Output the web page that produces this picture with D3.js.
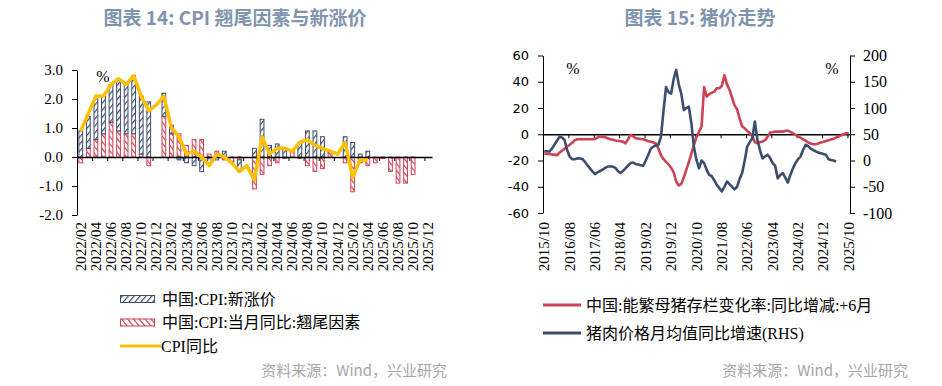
<!DOCTYPE html>
<html>
<head>
<meta charset="utf-8">
<script src="https://cdn.jsdelivr.net/npm/d3@7"></script>
<style>
body { margin: 0; background: #fff; }
svg text { font-family: "Liberation Serif", "Noto Sans CJK SC", serif; }
</style>
</head>
<body>
<svg id="chart" width="942" height="386"></svg>
<script>
"use strict";

// ---- chart 14 : CPI tail factor vs new price factor (2022/02 .. 2025/12)
const cpiMonths = d3.timeMonth.range(new Date(2022, 1, 1), new Date(2026, 0, 1)).map(d3.timeFormat("%Y/%m"));
const cpiYoY = [0.9, 1.5, 2.1, 2.1, 2.5, 2.7, 2.5, 2.8, 2.1, 1.6, 1.8,
    2.1, 1.0, 0.7, 0.1, 0.2, 0.0, -0.3, 0.1, 0.0, -0.2, -0.5, -0.3,
    -0.8, 0.7, 0.1, 0.3, 0.3, 0.2, 0.5, 0.6, 0.4, 0.3, 0.2, 0.1,
    0.5, -0.7, -0.1, -0.1];
const newPrice = [0.9, 1.1, 1.4, 1.3, 1.3, 1.8, 1.7, 2.0, 2.0, 1.9, null,
    0.8, 0.3, -0.1, -0.2, -0.3, -0.5, -0.2, -0.1, 0.2, -0.05, -0.4, null,
    0.3, 1.3, 0.4, 0.45, 0.3, 0.0, 0.5, 0.9, 0.9, 0.7, 0.05, null,
    0.7, 0.5, 0.1, 0.2, null, null, null, null, null, null, null, null];
const tailFactor = [-0.2, 0.3, 0.6, 0.8, 1.2, 0.9, 0.8, 0.8, 0.1, -0.3, null,
    1.4, 0.8, 0.8, 0.4, 0.6, 0.6, 0.1, 0.2, -0.1, -0.15, -0.1, null,
    -1.1, -0.6, -0.3, -0.2, -0.05, 0.2, -0.05, -0.3, -0.5, -0.4, 0.15, null,
    -0.2, -1.2, -0.2, -0.3, -0.2, -0.05, -0.5, -0.9, -0.9, -0.6, null, null];
const cpiTicks = [-2, -1, 0, 1, 2, 3];

// ---- chart 15 : hog prices (2015/10 .. 2025/10)
const pigMonths = d3.timeMonth.range(new Date(2015, 9, 1), new Date(2025, 10, 1)).map(d3.timeFormat("%Y/%m"));
// sow inventory yoy, shifted +6 months (left axis)
const sowChange = [-14.5, -15, -15, -15.5, -15.5, -16, -14, -12.5, -11, -9.5,
    -8, -6.5, -4.5, -3.8, -3.8, -3.8, -3.8, -3.8, -3.8, -3.8,
    -3.5, -2.5, -1.8, -2, -2.3, -3, -3.8, -4.2, -4.8, -5,
    -5.3, -5.6, -6.9, -4, -0.5, -1.5, -3, -3.2, -3.6, -3.8,
    -4.5, -5.3, -5.8, -6.3, -7, -11, -16, -19, -21, -23,
    -25.5, -29, -36, -39, -37.8, -33, -27, -21, -14.5, -8,
    -2, 2, 6, 36, 28.7, 30.5, 31.5, 32.5, 35, 35,
    37, 45, 38, 34, 28, 22, 19, 12, 6, 4.5,
    2.5, 0.8, -1.5, -6, -6.9, -6, -5.6, -4.5, -2, 1.3,
    1.5, 2, 2, 2, 2, 2.5, 2.8, 1.8, 0.8, -0.5,
    -1.8, -2.6, -3.8, -4.8, -6.3, -7, -7.6, -7.6, -7, -6.3,
    -5.8, -5.2, -4.5, -4, -3.5, -2.5, -1.8, -0.8, 0, 0.8,
    0.8];
// pork price monthly avg yoy (right axis)
const porkPrice = [18, 17.5, 17, 22.5, 30, 37.5, 45, 44, 39, 20,
    7.5, 2.5, 2.5, 4, 4, 3, -2.5, -9, -15, -21,
    -26, -22.5, -20, -17.5, -14, -11.5, -11.5, -11.5, -14, -20,
    -24, -20, -15, -10, -5, -4, -6.5, -7.5, -9, -10,
    0, 11, 22.5, 26.5, 29, 30, 45.5, 95, 140, 130,
    127.5, 155, 172.5, 145, 127.5, 96, 100, 102.5, 70, 25,
    1, -15, 0, -5, -17.5, -27.5, -30, -37.5, -46.5, -52.5,
    -59, -50, -40, -45, -50, -55, -50, -35, -24, 0,
    26.5, 35, 42.5, 74, 40, 20, 4, 7.5, 11, 5,
    -5, -10, -34, -27.5, -24, -32.5, -42, -27.5, -15, -5,
    2.5, 7.5, 20, 30, 27.5, 22.5, 20, 17.5, 15, 14,
    12.5, 11, 2.5, 1, 0, -2];
const leftTicks = [-60, -40, -20, 0, 20, 40, 60];
const rightTicks = [-100, -50, 0, 50, 100, 150, 200];

const NAVY = "#3d4e6c", RED = "#cc4356", GOLD = "#ffc000";
const TITLE = "#8094ae", GREY = "#a6a6a6";

const svg = d3.select("#chart");

// hatch patterns
const defs = svg.append("defs");
function hatch(id, color, angle) {
    const p = defs.append("pattern")
        .attr("id", id)
        .attr("patternUnits", "userSpaceOnUse")
        .attr("width", 4.5).attr("height", 4.5)
        .attr("patternTransform", "rotate(" + angle + ")");
    p.append("rect").attr("width", 4.5).attr("height", 4.5).attr("fill", "#fff");
    p.append("line").attr("x1", 0).attr("y1", 0).attr("x2", 0).attr("y2", 4.5)
        .attr("stroke", color).attr("stroke-width", 2.4);
}
hatch("hatchNavy", NAVY, 40);
hatch("hatchRed", RED, -40);

function title(x, txt) {
    svg.append("text").attr("x", x).attr("y", 25)
        .attr("text-anchor", "middle")
        .style("font-family", "'Noto Sans CJK SC', sans-serif")
        .style("font-weight", "bold").style("font-size", "19px")
        .attr("fill", TITLE).text(txt);
}
function source(x) {
    svg.append("text").attr("x", x).attr("y", 376)
        .attr("text-anchor", "end")
        .style("font-family", "'Noto Sans CJK SC', sans-serif")
        .style("font-size", "15px")
        .attr("fill", GREY).text("资料来源：Wind，兴业研究");
}
function styleAxis(g, font, size) {
    g.selectAll("path, line").attr("stroke", "#000");
    g.selectAll("text").style("font-family", font).style("font-size", size).attr("fill", "#000");
}

// ================= chart 14 =================
title(235, "图表 14: CPI 翘尾因素与新涨价");

const xL = d3.scaleBand().domain(cpiMonths).range([77, 432]).paddingInner(0.5).paddingOuter(0.25);
const yL = d3.scaleLinear().domain([-2, 3]).range([215, 70]);

const rows = cpiMonths.map((m, i) => ({ month: m, tail: tailFactor[i], newp: newPrice[i] }));
const stack = d3.stack()
    .keys(["tail", "newp"])
    .value((d, k) => d[k] == null ? 0 : d[k])
    .offset(d3.stackOffsetDiverging);
const layers = stack(rows);
const barStyle = { tail: ["url(#hatchRed)", RED], newp: ["url(#hatchNavy)", NAVY] };

layers.forEach(layer => {
    svg.append("g").selectAll("rect")
        .data(layer.filter(d => d.data[layer.key] != null && d.data[layer.key] !== 0))
        .join("rect")
        .attr("x", d => xL(d.data.month))
        .attr("width", xL.bandwidth())
        .attr("y", d => yL(Math.max(d[0], d[1])))
        .attr("height", d => Math.abs(yL(d[0]) - yL(d[1])))
        .attr("fill", barStyle[layer.key][0])
        .attr("stroke", barStyle[layer.key][1])
        .attr("stroke-width", 1);
});

// y axis
const gyL = svg.append("g").attr("transform", "translate(77,0)")
    .call(d3.axisLeft(yL).tickValues(cpiTicks).tickFormat(d => d.toFixed(1)).tickSize(5).tickSizeOuter(0).tickPadding(9));
styleAxis(gyL, "'Liberation Serif', serif", "15px");

// zero line with ticks every two months
const xbL = d3.scaleLinear().domain([0, cpiMonths.length]).range(xL.range());
const gxL = svg.append("g").attr("transform", "translate(0," + yL(0) + ")")
    .call(d3.axisBottom(xbL).tickValues(d3.range(2, cpiMonths.length, 2)).tickFormat("").tickSize(4).tickSizeOuter(0));
styleAxis(gxL, "serif", "1px");
gxL.select(".domain").attr("stroke-width", 1.3);

// CPI line
const cpiLine = d3.line()
    .defined(d => d != null)
    .x((d, i) => xL(cpiMonths[i]) + xL.bandwidth() / 2)
    .y(d => yL(d));
svg.append("path").datum(cpiYoY)
    .attr("d", cpiLine)
    .attr("fill", "none").attr("stroke", GOLD)
    .attr("stroke-width", 3.5).attr("stroke-linejoin", "round");

// x labels
svg.append("g").selectAll("text")
    .data(cpiMonths.filter((m, i) => i % 2 === 0))
    .join("text")
    .attr("transform", d => "translate(" + (xL(d) + xL.bandwidth() / 2 + 5) + ",222) rotate(-90)")
    .attr("text-anchor", "end")
    .style("font-size", "15px")
    .text(d => d);

svg.append("text").attr("x", 103).attr("y", 82).attr("text-anchor", "middle")
    .style("font-size", "16px").text("%");

// legend 14
const leg14 = [
    { label: "中国:CPI:新涨价", kind: "bar", fill: "url(#hatchNavy)", stroke: NAVY },
    { label: "中国:CPI:当月同比:翘尾因素", kind: "bar", fill: "url(#hatchRed)", stroke: RED },
    { label: "CPI同比", kind: "line", stroke: GOLD }
];
leg14.forEach((d, i) => {
    const y = 299 + i * 23.5;
    if (d.kind === "bar") {
        svg.append("rect").attr("x", 120.5).attr("y", y - 3.5).attr("width", 34).attr("height", 7)
            .attr("fill", d.fill).attr("stroke", d.stroke).attr("stroke-width", 1);
    } else {
        svg.append("line").attr("x1", 120).attr("x2", 161).attr("y1", y).attr("y2", y)
            .attr("stroke", d.stroke).attr("stroke-width", 3);
    }
    svg.append("text").attr("x", d.kind === "bar" ? 162 : 161).attr("y", y + 5.5)
        .style("font-size", "16px").text(d.label);
});
source(447);

// ================= chart 15 =================
title(700, "图表 15: 猪价走势");

const xR = d3.scaleBand().domain(pigMonths).range([543, 850]);
const yLeft = d3.scaleLinear().domain([-60, 60]).range([213, 55.5]);
const yRight = d3.scaleLinear().domain([-100, 200]).range([213, 55.5]);
const cx = i => xR(pigMonths[i]) + xR.bandwidth() / 2;

const gyl = svg.append("g").attr("transform", "translate(543,0)")
    .call(d3.axisLeft(yLeft).tickValues(leftTicks).tickFormat(d => String(d)).tickSize(5).tickSizeOuter(0).tickPadding(9));
styleAxis(gyl, "'DejaVu Sans', sans-serif", "13px");

const gyr = svg.append("g").attr("transform", "translate(850,0)")
    .call(d3.axisRight(yRight).tickValues(rightTicks).tickFormat(d => String(d)).tickSize(5).tickSizeOuter(0).tickPadding(8));
styleAxis(gyr, "'Liberation Serif', serif", "16px");

const xbR = d3.scaleLinear().domain([0, pigMonths.length]).range(xR.range());
const gxR = svg.append("g").attr("transform", "translate(0," + yLeft(0) + ")")
    .call(d3.axisBottom(xbR).tickValues(d3.range(10, pigMonths.length, 10)).tickFormat("").tickSize(4).tickSizeOuter(0));
styleAxis(gxR, "serif", "1px");
gxR.select(".domain").attr("stroke-width", 1.3);

svg.append("path").datum(sowChange)
    .attr("d", d3.line().x((d, i) => cx(i)).y(d => yLeft(d)))
    .attr("fill", "none").attr("stroke", RED).attr("stroke-width", 2.6).attr("stroke-linejoin", "round");
svg.append("path").datum(porkPrice)
    .attr("d", d3.line().x((d, i) => cx(i)).y(d => yRight(d)))
    .attr("fill", "none").attr("stroke", NAVY).attr("stroke-width", 2.6).attr("stroke-linejoin", "round");

svg.append("g").selectAll("text")
    .data(pigMonths.filter((m, i) => i % 10 === 0))
    .join("text")
    .attr("transform", d => "translate(" + (xR(d) + xR.bandwidth() / 2 + 5) + ",222) rotate(-90)")
    .attr("text-anchor", "end")
    .style("font-size", "15px")
    .text(d => d);

svg.append("text").attr("x", 573).attr("y", 74).attr("text-anchor", "middle").style("font-size", "16px").text("%");
svg.append("text").attr("x", 832).attr("y", 74).attr("text-anchor", "middle").style("font-size", "16px").text("%");

const leg15 = [
    { label: "中国:能繁母猪存栏变化率:同比增减:+6月", stroke: RED },
    { label: "猪肉价格月均值同比增速(RHS)", stroke: NAVY }
];
leg15.forEach((d, i) => {
    const y = 305 + i * 28;
    svg.append("line").attr("x1", 543).attr("x2", 581).attr("y1", y).attr("y2", y)
        .attr("stroke", d.stroke).attr("stroke-width", 3);
    svg.append("text").attr("x", 586).attr("y", y + 5.5).style("font-size", "16px").text(d.label);
});
source(908);
</script>
</body>
</html>
